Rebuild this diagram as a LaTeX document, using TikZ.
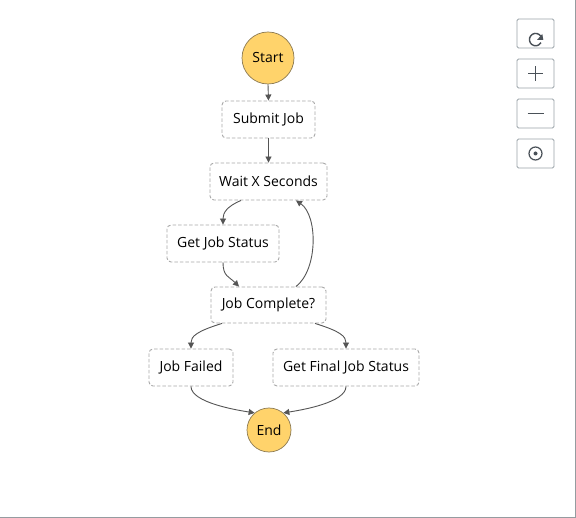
\documentclass[tikz,border=0pt]{standalone}
\usepackage{fontspec}
\setmainfont{Open Sans}
\usetikzlibrary{arrows.meta}
\definecolor{stategold}{HTML}{FFD36B}
\definecolor{circedge}{HTML}{8C7A52}
\definecolor{dashgray}{HTML}{A9A9A9}
\definecolor{linegray}{HTML}{555555}
\definecolor{btngray}{HTML}{9AA3A8}
\definecolor{icongray}{HTML}{4A5158}
\tikzset{
  statebox/.style={draw=dashgray, dash pattern=on 3.5pt off 2pt, line width=0.9pt, rounded corners=4pt, fill=white, minimum height=37pt, inner xsep=0pt, font=\fontsize{14}{16}\selectfont, text=black},
  endpoint/.style={circle, draw=circedge, line width=0.7pt, fill=stategold, inner sep=0pt, font=\fontsize{14}{16}\selectfont, text=black},
  arr/.style={draw=linegray, line width=0.9pt, -{Triangle[width=6pt,length=6pt]}},
  btn/.style={draw=btngray, line width=0.8pt, rounded corners=1.5pt, minimum width=37pt, minimum height=29pt, fill=white},
  icon/.style={draw=icongray, line width=1.4pt}
}
\begin{document}
\begin{tikzpicture}[x=1pt,y=-1pt]
\useasboundingbox (0,0) rectangle (576,518);
\fill[white] (0,0) rectangle (576,518);
\draw[btngray!80!gray, line width=1pt] (575.5,0) -- (575.5,517.5) -- (0,517.5);

% states
\node[endpoint, minimum size=52pt] (start) at (268,58) {Start};
\node[statebox, minimum width=93pt] (submit) at (268.5,119.5) {Submit Job};
\node[statebox, minimum width=117pt] (wait) at (268.5,181.5) {Wait X Seconds};
\node[statebox, minimum width=112pt] (gjs) at (223,243.5) {Get Job Status};
\node[statebox, minimum width=115pt, minimum height=36pt] (jc) at (268.5,305) {Job Complete?};
\node[statebox, minimum width=84pt] (failed) at (191,367.5) {Job Failed};
\node[statebox, minimum width=146pt] (final) at (346,367.5) {Get Final Job Status};
\node[endpoint, minimum size=44pt] (end) at (269,430) {End};

% connectors
\draw[arr] (start.south) -- (submit.north);
\draw[arr] (submit.south) -- (wait.north);
\draw[arr] ([xshift=-27.5pt]wait.south) .. controls +(-14,6) and +(0,-12) .. (gjs.north);
\draw[arr] (gjs.south) .. controls +(0,14) and +(-10,-10) .. ([xshift=-29.5pt]jc.north);
\draw[arr] ([xshift=27.5pt]jc.north) .. controls +(22,-17) and +(22,15) .. ([xshift=27.5pt]wait.south);
\draw[arr] ([xshift=-46.5pt]jc.south) .. controls +(-26,8) and +(0,-12) .. (failed.north);
\draw[arr] ([xshift=46.5pt]jc.south) .. controls +(26,8) and +(0,-12) .. (final.north);
\draw[arr] (failed.south) .. controls +(0,16) and (236,410) .. (end.130);
\draw[arr] (final.south) .. controls +(0,16) and (302,410) .. (end.50);

% control buttons
\node[btn] (b1) at (535.5,33.5) {};
\node[btn] (b2) at (535.5,73.5) {};
\node[btn] (b3) at (535.5,113.5) {};
\node[btn] (b4) at (535.5,153.5) {};
% refresh icon
\draw[icon] ([xshift=5.5pt,yshift=-3pt]b1.center) arc[start angle=30, end angle=330, radius=6.2pt];
\fill[icongray] ([xshift=7.8pt,yshift=-6.5pt]b1.center) -- ([xshift=1.5pt,yshift=-6.5pt]b1.center) -- ([xshift=6.8pt,yshift=-0.5pt]b1.center) -- cycle;
% plus
\draw[icon] ([xshift=-7.5pt]b2.center) -- ([xshift=7.5pt]b2.center);
\draw[icon] ([yshift=-7.5pt]b2.center) -- ([yshift=7.5pt]b2.center);
% minus
\draw[icon] ([xshift=-8pt]b3.center) -- ([xshift=8pt]b3.center);
% target
\draw[icon, line width=1.2pt] (b4.center) circle[radius=6.5pt];
\fill[icongray] (b4.center) circle[radius=2pt];
\end{tikzpicture}
\end{document}
